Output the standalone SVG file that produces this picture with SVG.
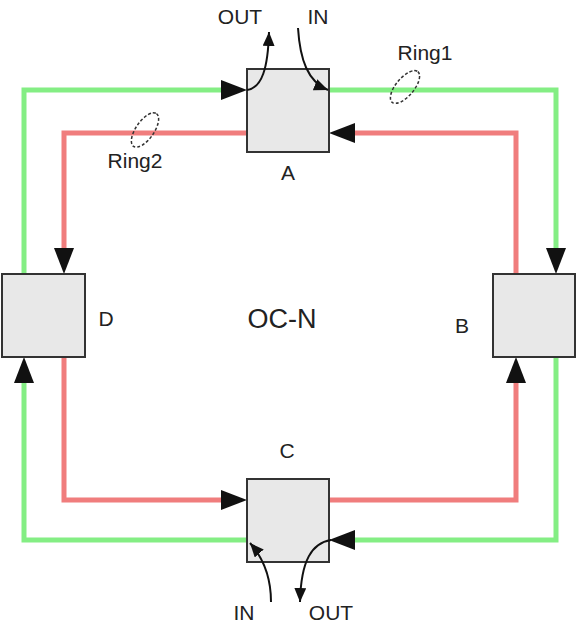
<svg xmlns="http://www.w3.org/2000/svg" width="577" height="629" viewBox="0 0 577 629">
<style>
.g{fill:none;stroke:#84ee84;stroke-width:5;stroke-linejoin:miter}
.r{fill:none;stroke:#f07d7d;stroke-width:5;stroke-linejoin:miter}
.k{fill:none;stroke:#111;stroke-width:2}
.box{fill:#e8e8e8;stroke:#333;stroke-width:2}
.t{font-family:"Liberation Sans",Arial,sans-serif;font-size:21px;fill:#222;text-anchor:middle}
.ring{fill:none;stroke:#333;stroke-width:1.5;stroke-dasharray:3 2}
</style>
<defs>
<marker id="big" markerUnits="userSpaceOnUse" viewBox="0 0 26 20" markerWidth="26" markerHeight="20" refX="0" refY="10" orient="auto">
<path d="M0,0 L26,10 L0,20 Z" fill="#111"/>
</marker>
<marker id="small" markerUnits="userSpaceOnUse" viewBox="0 0 14 12" markerWidth="14" markerHeight="12" refX="14" refY="6" orient="auto">
<path d="M0,0 L14,6 L0,12 Z" fill="#111"/>
</marker>
</defs>
<rect width="577" height="629" fill="#fff"/>
<g id="connectors">
<path class="g" d="M24,274 L24,90 L221,90" marker-end="url(#big)"/>
<path class="g" d="M329,90 L556,90 L556,248" marker-end="url(#big)"/>
<path class="g" d="M556,357 L556,540 L355,540" marker-end="url(#big)"/>
<path class="g" d="M247,540 L24,540 L24,383" marker-end="url(#big)"/>
<path class="r" d="M247,133 L64,133 L64,248" marker-end="url(#big)"/>
<path class="r" d="M64,357 L64,500 L221,500" marker-end="url(#big)"/>
<path class="r" d="M329,500 L516,500 L516,383" marker-end="url(#big)"/>
<path class="r" d="M516,274 L516,133 L355,133" marker-end="url(#big)"/>
</g>
<g id="A">
<rect class="box" x="247" y="69" width="82" height="83"/>
<text class="t" x="288" y="180">A</text>
</g>
<g id="B">
<rect class="box" x="493" y="274" width="82" height="83"/>
<text class="t" x="462" y="333">B</text>
</g>
<g id="C">
<rect class="box" x="247" y="479" width="82" height="83"/>
<text class="t" x="287" y="458">C</text>
</g>
<g id="D">
<rect class="box" x="2" y="274" width="83" height="83"/>
<text class="t" x="106" y="326">D</text>
</g>
<g id="io">
<path class="k" d="M247,90 C262,88 268,68 269,32" marker-end="url(#small)"/>
<path class="k" d="M298,28 C300,60 308,82 328,90" marker-end="url(#small)"/>
<path class="k" d="M271,602 C271,580 265,560 250,543" marker-end="url(#small)"/>
<path class="k" d="M331,540 C312,543 301,560 300,602" marker-end="url(#small)"/>
<text class="t" x="240" y="24">OUT</text>
<text class="t" x="318" y="24">IN</text>
<text class="t" x="244" y="620">IN</text>
<text class="t" x="331" y="620">OUT</text>
</g>
<g id="rings">
<ellipse class="ring" cx="405" cy="87" rx="20" ry="9" transform="rotate(-50 405 87)"/>
<text class="t" x="425" y="60">Ring1</text>
<ellipse class="ring" cx="145" cy="130" rx="20" ry="9" transform="rotate(-55 145 130)"/>
<text class="t" x="135" y="168">Ring2</text>
</g>
<text class="t" x="282" y="328" style="font-size:27px">OC-N</text>
</svg>
